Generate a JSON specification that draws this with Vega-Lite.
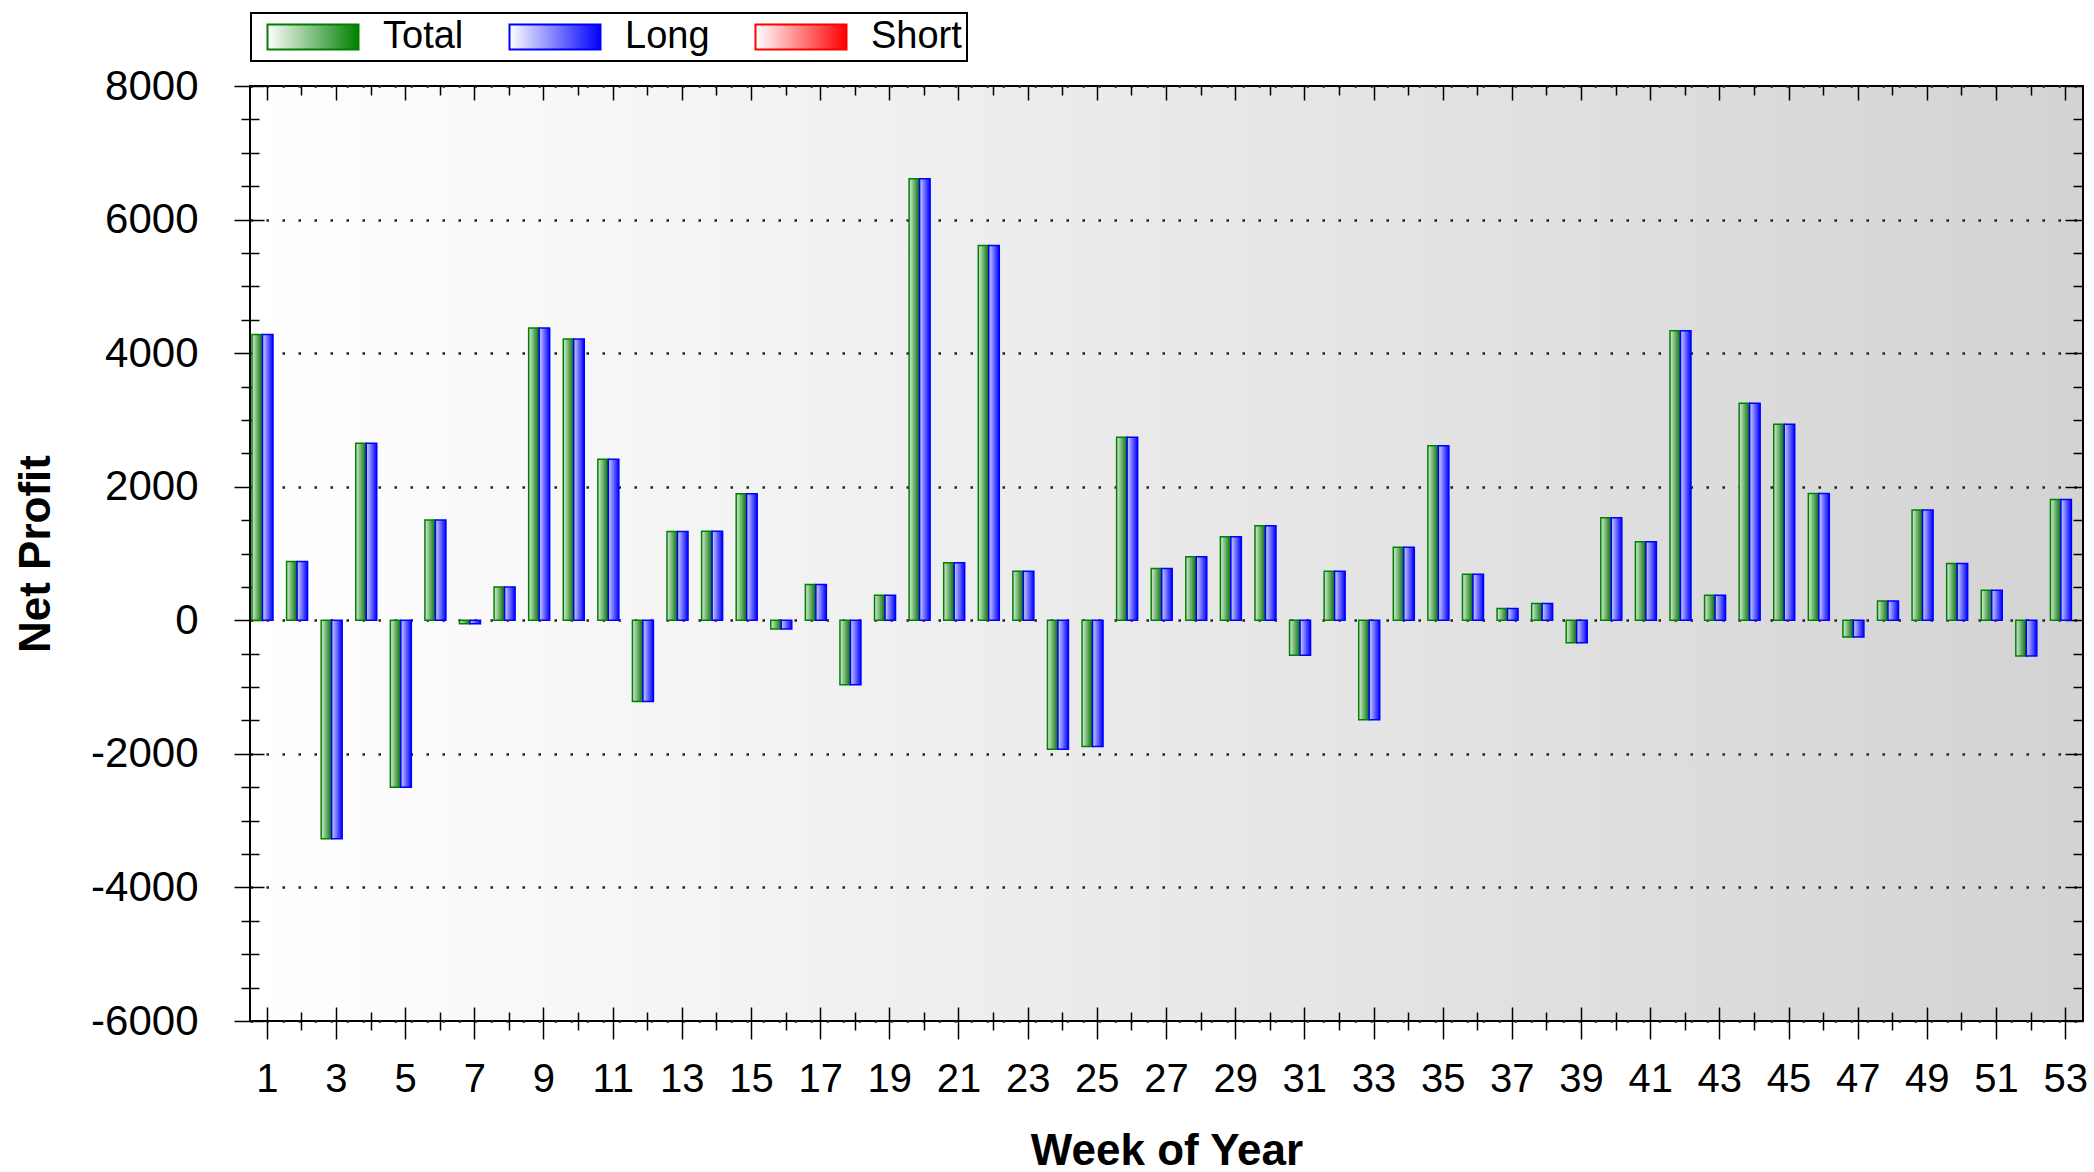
{
  "$schema": "https://vega.github.io/schema/vega-lite/v6.json",
  "width": 1833,
  "height": 935,
  "autosize": "none",
  "padding": {"left": 250, "top": 86, "right": 11, "bottom": 151},
  "background": "white",
  "data": {"values": [
    {"week":1,"series":"Total","value":4280},{"week":1,"series":"Long","value":4280},
    {"week":2,"series":"Total","value":880},{"week":2,"series":"Long","value":880},
    {"week":3,"series":"Total","value":-3270},{"week":3,"series":"Long","value":-3270},
    {"week":4,"series":"Total","value":2650},{"week":4,"series":"Long","value":2650},
    {"week":5,"series":"Total","value":-2500},{"week":5,"series":"Long","value":-2500},
    {"week":6,"series":"Total","value":1500},{"week":6,"series":"Long","value":1500},
    {"week":7,"series":"Total","value":-50},{"week":7,"series":"Long","value":-50},
    {"week":8,"series":"Total","value":500},{"week":8,"series":"Long","value":500},
    {"week":9,"series":"Total","value":4375},{"week":9,"series":"Long","value":4375},
    {"week":10,"series":"Total","value":4210},{"week":10,"series":"Long","value":4210},
    {"week":11,"series":"Total","value":2410},{"week":11,"series":"Long","value":2410},
    {"week":12,"series":"Total","value":-1215},{"week":12,"series":"Long","value":-1215},
    {"week":13,"series":"Total","value":1330},{"week":13,"series":"Long","value":1330},
    {"week":14,"series":"Total","value":1335},{"week":14,"series":"Long","value":1335},
    {"week":15,"series":"Total","value":1895},{"week":15,"series":"Long","value":1895},
    {"week":16,"series":"Total","value":-130},{"week":16,"series":"Long","value":-130},
    {"week":17,"series":"Total","value":535},{"week":17,"series":"Long","value":535},
    {"week":18,"series":"Total","value":-965},{"week":18,"series":"Long","value":-965},
    {"week":19,"series":"Total","value":375},{"week":19,"series":"Long","value":375},
    {"week":20,"series":"Total","value":6610},{"week":20,"series":"Long","value":6610},
    {"week":21,"series":"Total","value":860},{"week":21,"series":"Long","value":860},
    {"week":22,"series":"Total","value":5610},{"week":22,"series":"Long","value":5610},
    {"week":23,"series":"Total","value":735},{"week":23,"series":"Long","value":735},
    {"week":24,"series":"Total","value":-1930},{"week":24,"series":"Long","value":-1930},
    {"week":25,"series":"Total","value":-1890},{"week":25,"series":"Long","value":-1890},
    {"week":26,"series":"Total","value":2740},{"week":26,"series":"Long","value":2740},
    {"week":27,"series":"Total","value":775},{"week":27,"series":"Long","value":775},
    {"week":28,"series":"Total","value":950},{"week":28,"series":"Long","value":950},
    {"week":29,"series":"Total","value":1250},{"week":29,"series":"Long","value":1250},
    {"week":30,"series":"Total","value":1415},{"week":30,"series":"Long","value":1415},
    {"week":31,"series":"Total","value":-525},{"week":31,"series":"Long","value":-525},
    {"week":32,"series":"Total","value":735},{"week":32,"series":"Long","value":735},
    {"week":33,"series":"Total","value":-1490},{"week":33,"series":"Long","value":-1490},
    {"week":34,"series":"Total","value":1095},{"week":34,"series":"Long","value":1095},
    {"week":35,"series":"Total","value":2615},{"week":35,"series":"Long","value":2615},
    {"week":36,"series":"Total","value":690},{"week":36,"series":"Long","value":690},
    {"week":37,"series":"Total","value":175},{"week":37,"series":"Long","value":175},
    {"week":38,"series":"Total","value":250},{"week":38,"series":"Long","value":250},
    {"week":39,"series":"Total","value":-335},{"week":39,"series":"Long","value":-335},
    {"week":40,"series":"Total","value":1535},{"week":40,"series":"Long","value":1535},
    {"week":41,"series":"Total","value":1175},{"week":41,"series":"Long","value":1175},
    {"week":42,"series":"Total","value":4335},{"week":42,"series":"Long","value":4335},
    {"week":43,"series":"Total","value":375},{"week":43,"series":"Long","value":375},
    {"week":44,"series":"Total","value":3250},{"week":44,"series":"Long","value":3250},
    {"week":45,"series":"Total","value":2935},{"week":45,"series":"Long","value":2935},
    {"week":46,"series":"Total","value":1900},{"week":46,"series":"Long","value":1900},
    {"week":47,"series":"Total","value":-250},{"week":47,"series":"Long","value":-250},
    {"week":48,"series":"Total","value":290},{"week":48,"series":"Long","value":290},
    {"week":49,"series":"Total","value":1650},{"week":49,"series":"Long","value":1650},
    {"week":50,"series":"Total","value":850},{"week":50,"series":"Long","value":850},
    {"week":51,"series":"Total","value":450},{"week":51,"series":"Long","value":450},
    {"week":52,"series":"Total","value":-535},{"week":52,"series":"Long","value":-535},
    {"week":53,"series":"Total","value":1810},{"week":53,"series":"Long","value":1810}
  ]},
  "layer": [
    {
      "transform": [{"filter": "datum.series === 'Total'"}],
      "mark": {"type": "bar", "strokeWidth": 1.5, "stroke": "#008000",
        "fill": {"gradient": "linear", "x1": 0, "y1": 0, "x2": 1, "y2": 0,
          "stops": [{"offset": 0, "color": "#d8eed8"}, {"offset": 1, "color": "#007000"}]}},
      "encoding": {
        "x": {"field": "week", "type": "ordinal",
          "scale": {"type": "band", "paddingInner": 0, "paddingOuter": 0},
          "axis": {"orient": "bottom", "values": [1,3,5,7,9,11,13,15,17,19,21,23,25,27,29,31,33,35,37,39,41,43,45,47,49,51,53],
            "tickSize": 18, "labelFontSize": 40, "labelPadding": 20, "labelAngle": 0,
            "title": "Week of Year", "titleFontSize": 44, "titleFontWeight": "bold",
            "titleY": 143, "titleBaseline": "alphabetic"}},
        "xOffset": {"field": "series", "type": "nominal",
          "scale": {"domain": ["Total", "Long"], "range": [2, 23], "paddingInner": 0, "paddingOuter": 0}},
        "y": {"field": "value", "type": "quantitative",
          "scale": {"domain": [-6000, 8000], "nice": false},
          "axis": {"orient": "left", "values": [-6000,-4000,-2000,0,2000,4000,6000,8000],
            "labelExpr": "datum.value + ''",
            "tickSize": 16, "labelFontSize": 42, "labelPadding": 36,
            "grid": true, "gridDash": [2.5, 13.5], "gridColor": "#222222", "gridWidth": 2.5,
            "title": "Net Profit", "titleFontSize": 44, "titleFontWeight": "bold",
            "titleX": -201, "titleBaseline": "alphabetic"}}
      }
    },
    {
      "transform": [{"filter": "datum.series === 'Long'"}],
      "mark": {"type": "bar", "strokeWidth": 1.5, "stroke": "#0000ff",
        "fill": {"gradient": "linear", "x1": 0, "y1": 0, "x2": 1, "y2": 0,
          "stops": [{"offset": 0, "color": "#d0d0ff"}, {"offset": 1, "color": "#0000ff"}]}},
      "encoding": {
        "x": {"field": "week", "type": "ordinal",
          "axis": {"orient": "bottom", "values": [1,3,5,7,9,11,13,15,17,19,21,23,25,27,29,31,33,35,37,39,41,43,45,47,49,51,53],
            "tickSize": -14, "labels": false, "title": null}},
        "xOffset": {"field": "series", "type": "nominal",
          "scale": {"domain": ["Total", "Long"], "range": [2, 23], "paddingInner": 0, "paddingOuter": 0}},
        "y": {"field": "value", "type": "quantitative",
          "axis": {"orient": "left", "values": [-6000,-4000,-2000,0,2000,4000,6000,8000], "tickSize": -14, "labels": false, "title": null}}
      }
    },
    {
      "mark": {"type": "square", "filled": true, "opacity": 0},
      "encoding": {
        "x": {"field": "week", "type": "ordinal",
          "axis": {"orient": "bottom", "values": [2,4,6,8,10,12,14,16,18,20,22,24,26,28,30,32,34,36,38,40,42,44,46,48,50,52],
            "tickSize": 9, "labels": false, "title": null}},
        "y": {"field": "value", "type": "quantitative",
          "axis": {"orient": "left", "values": [-5500,-5000,-4500,-3500,-3000,-2500,-1500,-1000,-500,500,1000,1500,2500,3000,3500,4500,5000,5500,6500,7000,7500],
            "tickSize": 9, "labels": false, "title": null}},
        "fill": {"field": "series", "type": "nominal",
          "scale": {"domain": ["Total", "Long", "Short"], "range": [
            {"expr": "{gradient: 'linear', x1: 0, y1: 0, x2: 1, y2: 0, stops: [{offset: 0, color: '#ffffff'}, {offset: 1, color: '#008000'}]}"},
            {"expr": "{gradient: 'linear', x1: 0, y1: 0, x2: 1, y2: 0, stops: [{offset: 0, color: '#ffffff'}, {offset: 1, color: '#0000ff'}]}"},
            {"expr": "{gradient: 'linear', x1: 0, y1: 0, x2: 1, y2: 0, stops: [{offset: 0, color: '#ffffff'}, {offset: 1, color: '#ff0000'}]}"}
          ]},
          "legend": {
            "labelExpr": "datum.label === 'Short' ? 'Short\u00a0\u00a0' : datum.label",
            "encode": {"symbols": {"update": {
              "stroke": {"signal": "datum.value === 'Total' ? '#008000' : datum.value === 'Long' ? '#0000ff' : '#ff0000'"},
              "strokeWidth": {"value": 2}
            }}}
          }}
      }
    },
    {
      "mark": {"type": "point", "opacity": 0},
      "encoding": {
        "x": {"field": "week", "type": "ordinal",
          "axis": {"orient": "bottom", "values": [2,4,6,8,10,12,14,16,18,20,22,24,26,28,30,32,34,36,38,40,42,44,46,48,50,52],
            "tickSize": -9, "labels": false, "title": null}},
        "y": {"field": "value", "type": "quantitative",
          "axis": {"orient": "left", "values": [-5500,-5000,-4500,-3500,-3000,-2500,-1500,-1000,-500,500,1000,1500,2500,3000,3500,4500,5000,5500,6500,7000,7500],
            "tickSize": -9, "labels": false, "title": null}}
      }
    },
    {
      "mark": {"type": "point", "opacity": 0},
      "encoding": {
        "x": {"field": "week", "type": "ordinal",
          "axis": {"orient": "top", "values": [1,3,5,7,9,11,13,15,17,19,21,23,25,27,29,31,33,35,37,39,41,43,45,47,49,51,53],
            "tickSize": -14, "labels": false, "title": null}},
        "y": {"field": "value", "type": "quantitative",
          "axis": {"orient": "right", "values": [-6000,-4000,-2000,0,2000,4000,6000,8000],
            "tickSize": -18, "labels": false, "title": null}}
      }
    },
    {
      "mark": {"type": "point", "opacity": 0},
      "encoding": {
        "x": {"field": "week", "type": "ordinal",
          "axis": {"orient": "top", "values": [2,4,6,8,10,12,14,16,18,20,22,24,26,28,30,32,34,36,38,40,42,44,46,48,50,52],
            "tickSize": -9, "labels": false, "title": null}},
        "y": {"field": "value", "type": "quantitative",
          "axis": {"orient": "right", "values": [-5500,-5000,-4500,-3500,-3000,-2500,-1500,-1000,-500,500,1000,1500,2500,3000,3500,4500,5000,5500,6500,7000,7500],
            "tickSize": -10, "labels": false, "title": null}}
      }
    }
  ],
  "resolve": {"axis": {"x": "independent", "y": "independent"}},
  "config": {
    "view": {"stroke": "black", "strokeWidth": 2,
      "fill": {"gradient": "linear", "x1": 0, "y1": 0, "x2": 1, "y2": 0,
        "stops": [{"offset": 0, "color": "#ffffff"}, {"offset": 1, "color": "#d3d3d3"}]}},
    "font": "Liberation Sans",
    "axis": {"labelFont": "Liberation Sans", "titleFont": "Liberation Sans", "labelColor": "black", "titleColor": "black",
      "tickColor": "black", "tickWidth": 1.5, "domain": false, "grid": false},
    "legend": {"orient": "none", "legendX": 1, "legendY": -73, "direction": "horizontal",
      "title": null, "strokeColor": "black", "strokeWidth": 2, "fillColor": "white", "padding": 5,
      "symbolType": "M-3.64,-1H3.64V1H-3.64Z", "symbolSize": 625, "symbolOffset": 38, "symbolStrokeWidth": 2, "symbolOpacity": 1,
      "labelFont": "Liberation Sans", "labelFontSize": 38, "labelColor": "black", "labelOffset": 51, "columnPadding": 34}
  }
}
